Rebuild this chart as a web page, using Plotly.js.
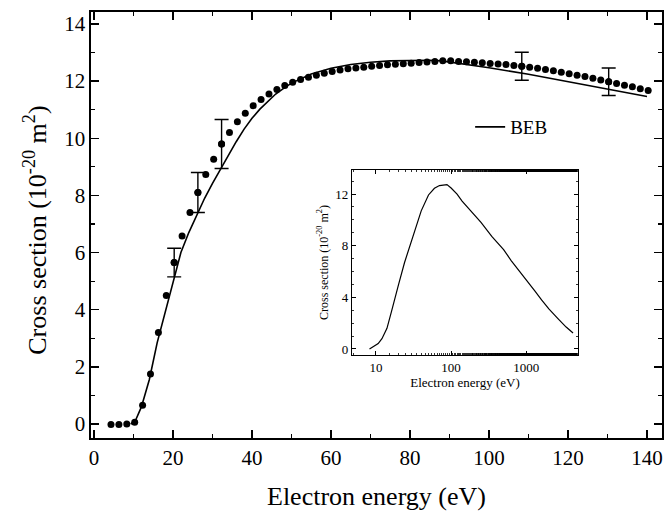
<!DOCTYPE html>
<html>
<head>
<meta charset="utf-8">
<script src="https://cdn.plot.ly/plotly-3.0.1.min.js"></script>
<style>html,body{margin:0;padding:0;background:#fff;}#chart{width:664px;height:514px;}</style>
</head>
<body>
<div id="chart"></div>
<script>
// Experimental cross sections (filled circles)
const expEnergy = [4.3, 6.3, 8.3, 10.3, 12.3, 14.3, 16.3, 18.3, 20.3, 22.3, 24.3, 26.3, 28.3, 30.3, 32.3, 34.3, 36.3, 38.3, 40.3, 42.3, 44.3, 46.3, 48.3, 50.3, 52.3, 54.3, 56.3, 58.3, 60.3, 62.3, 64.3, 66.3, 68.3, 70.3, 72.3, 74.3, 76.3, 78.3, 80.3, 82.3, 84.3, 86.3, 88.3, 90.3, 92.3, 94.3, 96.3, 98.3, 100.3, 102.3, 104.3, 106.3, 108.3, 110.3, 112.3, 114.3, 116.3, 118.3, 120.3, 122.3, 124.3, 126.3, 128.3, 130.3, 132.3, 134.3, 136.3, 138.3, 140.3];
const expSigma = [-0.02, -0.02, 0.0, 0.06, 0.66, 1.75, 3.2, 4.5, 5.65, 6.58, 7.4, 8.1, 8.73, 9.27, 9.8, 10.2, 10.58, 10.88, 11.14, 11.36, 11.55, 11.71, 11.85, 11.96, 12.06, 12.14, 12.21, 12.28, 12.34, 12.39, 12.43, 12.46, 12.49, 12.52, 12.55, 12.57, 12.59, 12.61, 12.63, 12.65, 12.67, 12.69, 12.71, 12.71, 12.69, 12.68, 12.66, 12.64, 12.62, 12.6, 12.58, 12.55, 12.52, 12.49, 12.45, 12.41, 12.36, 12.31, 12.26, 12.21, 12.16, 12.1, 12.04, 11.98, 11.92, 11.86, 11.8, 11.73, 11.67];

// Points carrying error bars
const errEnergy = [20.3, 26.3, 32.3, 108.3, 130.3];
const errSigma = [5.65, 8.1, 9.8, 12.52, 11.98];
const errSize = [0.5, 0.7, 0.86, 0.49, 0.48];

// BEB theory curve (main panel)
const bebEnergy = [9.3, 10.5, 12, 14, 16, 18, 20, 22, 24, 26, 28, 30, 32, 34, 36, 38, 40, 42, 44, 46, 48, 50, 55, 60, 65, 70, 75, 80, 85, 88, 95, 100, 110, 120, 130, 140];
const bebSigma = [0, 0.12, 0.6, 1.55, 2.85, 3.9, 5.0, 6.0, 6.7, 7.3, 7.9, 8.42, 8.92, 9.42, 9.88, 10.32, 10.7, 11.02, 11.3, 11.55, 11.75, 11.93, 12.25, 12.45, 12.58, 12.66, 12.71, 12.73, 12.73, 12.71, 12.58, 12.47, 12.24, 11.98, 11.72, 11.46];

// BEB theory curve (inset, log energy)
const insetEnergy = [8.2, 9.5, 10.7, 12, 14, 16, 18, 20, 24, 28, 35, 40, 50, 60, 70, 80, 88, 100, 120, 140, 200, 250, 350, 500, 630, 800, 1000, 1300, 1600, 2000, 2700, 3400, 4200];
const insetSigma = [0, 0.2, 0.42, 0.8, 1.6, 2.85, 3.9, 5.0, 6.7, 7.9, 9.65, 10.7, 11.93, 12.45, 12.66, 12.73, 12.73, 12.47, 12.0, 11.46, 10.4, 9.8, 8.7, 7.7, 6.85, 6.1, 5.35, 4.5, 3.8, 3.1, 2.3, 1.7, 1.24];

const FONT = '"Liberation Serif", "Times New Roman", serif';
const INK = '#000';

const traces = [
  {x: bebEnergy, y: bebSigma, mode: 'lines', name: 'BEB', line: {color: INK, width: 1.6}, xaxis: 'x', yaxis: 'y'},
  {x: expEnergy, y: expSigma, mode: 'markers', showlegend: false, marker: {color: INK, size: 7}, xaxis: 'x', yaxis: 'y'},
  {x: errEnergy, y: errSigma, mode: 'markers', showlegend: false, marker: {color: INK, size: 7},
   error_y: {type: 'data', array: errSize, visible: true, color: INK, thickness: 1.4, width: 7}, xaxis: 'x', yaxis: 'y'},
  {x: insetEnergy, y: insetSigma, mode: 'lines', showlegend: false, line: {color: INK, width: 1.2}, xaxis: 'x2', yaxis: 'y2'}
];

const layout = {
  width: 664, height: 514,
  margin: {l: 91, r: 2, t: 12, b: 76},
  paper_bgcolor: '#fff', plot_bgcolor: '#fff',
  font: {family: FONT, color: INK},
  showlegend: true,
  legend: {x: 0.664, y: 0.73, xanchor: 'left', yanchor: 'middle', bgcolor: 'rgba(0,0,0,0)', font: {size: 19, family: FONT, color: INK}, itemwidth: 30},
  annotations: [{
    text: 'Cross section (10<sup>-20</sup> m<sup>2</sup>)', xref: 'paper', yref: 'paper',
    x: -0.097, y: 0.488, xanchor: 'center', yanchor: 'middle', textangle: -90, showarrow: false,
    font: {size: 26, family: FONT, color: INK}
  }],
  xaxis: {
    range: [-0.76, 143.8], dtick: 20, tick0: 0, ticks: 'inside', ticklen: 8, tickwidth: 1.4, tickcolor: INK,
    showline: true, linewidth: 1.6, linecolor: INK, mirror: 'ticks', showgrid: false, zeroline: false,
    tickfont: {size: 21, family: FONT, color: INK},
    minor: {dtick: 10, ticks: 'inside', ticklen: 4, tickwidth: 1.2, tickcolor: INK, showgrid: false},
    title: {text: 'Electron energy (eV)', font: {size: 26, family: FONT, color: INK}, standoff: 18}
  },
  yaxis: {
    range: [-0.49, 14.42], dtick: 2, tick0: 0, ticks: 'inside', ticklen: 8, tickwidth: 1.4, tickcolor: INK,
    showline: true, linewidth: 1.6, linecolor: INK, mirror: 'ticks', showgrid: false, zeroline: false,
    tickfont: {size: 21, family: FONT, color: INK},
    minor: {dtick: 1, ticks: 'inside', ticklen: 4, tickwidth: 1.2, tickcolor: INK, showgrid: false}
  },
  xaxis2: {
    type: 'log', domain: [0.457, 0.853], anchor: 'y2', range: [0.68, 3.69],
    tickvals: [10, 100, 1000], ticktext: ['10', '100', '1000'], ticks: 'inside', ticklen: 4, tickwidth: 1, tickcolor: INK,
    showline: true, linewidth: 1.2, linecolor: INK, mirror: 'ticks', showgrid: false, zeroline: false,
    tickfont: {size: 13, family: FONT, color: INK},
    minor: {ticks: 'inside', ticklen: 2, tickwidth: 0.8, tickcolor: INK, showgrid: false},
    title: {text: 'Electron energy (eV)', font: {size: 13, family: FONT, color: INK}, standoff: 4}
  },
  yaxis2: {
    domain: [0.195, 0.629], anchor: 'x2', range: [-0.46, 13.86],
    dtick: 4, tick0: 0, ticks: 'inside', ticklen: 4, tickwidth: 1, tickcolor: INK,
    showline: true, linewidth: 1.2, linecolor: INK, mirror: 'ticks', showgrid: false, zeroline: false,
    tickfont: {size: 13, family: FONT, color: INK},
    minor: {dtick: 1, ticks: 'inside', ticklen: 2, tickwidth: 0.8, tickcolor: INK, showgrid: false},
    title: {text: 'Cross section (10<sup>-20</sup> m<sup>2</sup>)', font: {size: 12, family: FONT, color: INK}, standoff: 4}
  }
};

Plotly.newPlot('chart', traces, layout, {displayModeBar: false, staticPlot: true});
</script>
</body>
</html>
